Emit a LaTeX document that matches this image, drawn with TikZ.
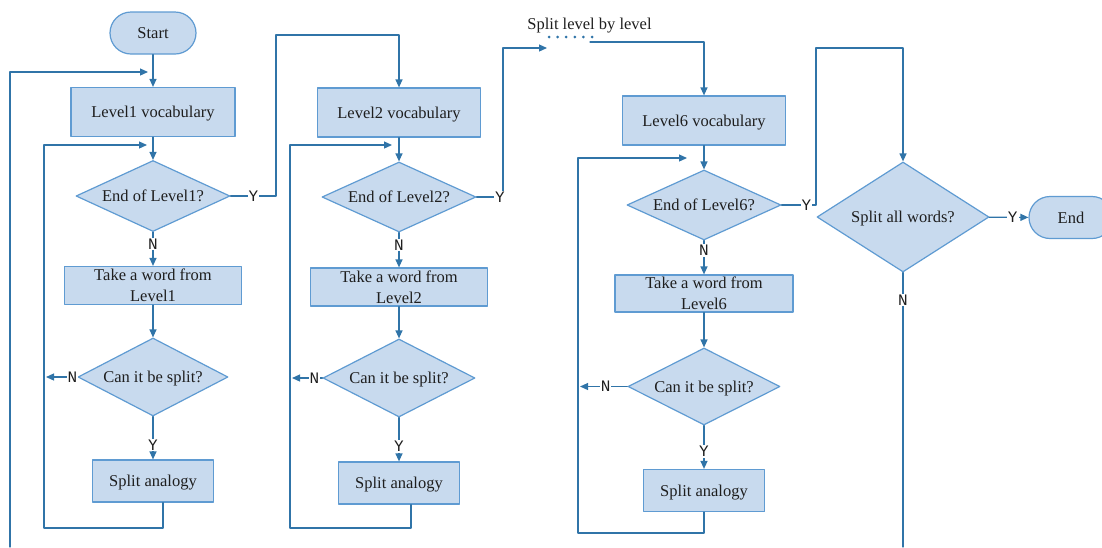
\documentclass[tikz,border=0pt]{standalone}
\usepackage{fontspec}
\setmainfont{Liberation Serif}
\newfontfamily\ynfont{Liberation Mono}
\usetikzlibrary{shapes.geometric,arrows.meta}
\definecolor{boxfill}{RGB}{200,218,238}
\definecolor{boxedge}{RGB}{95,155,210}
\definecolor{linkblue}{RGB}{48,116,168}
\definecolor{inkgray}{RGB}{30,30,30}

\begin{document}
\begin{tikzpicture}[x=1pt,y=-1pt,line cap=round,line join=round,
  box/.style={draw=boxedge,fill=boxfill,line width=1.2pt,inner sep=0pt,text=inkgray,
    font=\fontsize{16.5}{21}\selectfont,align=center,text depth=0pt},
  proc/.style={box,rectangle},
  term/.style={box,rectangle,rounded corners=21pt},
  ask/.style={box,diamond,aspect=2},
  link/.style={draw=linkblue,line width=1.2pt,-{Triangle[length=8pt,width=7pt]}},
  wire/.style={draw=linkblue,line width=1.2pt},
  yn/.style={fill=white,inner sep=1pt,text=inkgray,font=\ynfont\fontsize{16}{16}\selectfont}]
  \useasboundingbox (0,0) rectangle (1102,547);

  \coordinate (yc1) at (276,196);
  \coordinate (tc1) at (276,35);
  \coordinate (nl1) at (46,377);
  \coordinate (lb1) at (44,528);
  \coordinate (li1) at (147,145);
  \coordinate (ob) at (10,547);
  \coordinate (oi) at (148,72);
  \coordinate (yc2) at (503,197);
  \coordinate (ta2) at (547,48);
  \coordinate (nl2) at (292,378);
  \coordinate (lb2) at (290,528);
  \coordinate (li2) at (392,145);
  \coordinate (tb6) at (590,42);
  \coordinate (yc6) at (816,205);
  \coordinate (tc6) at (816,48);
  \coordinate (nl6) at (580,386.5);
  \coordinate (lb6) at (578,533);
  \coordinate (li6) at (687,158);
  \coordinate (nb) at (903,547);

  \node[term,minimum width=86pt,minimum height=42pt] (start) at (153,33) {Start};
  \node[proc,minimum width=164pt,minimum height=49pt] (lv1) at (153,112) {Level1 vocabulary};
  \node[ask,minimum width=154pt,minimum height=71pt] (end1) at (153,196) {End of Level1?};
  \node[proc,minimum width=177pt,minimum height=38pt] (take1) at (153,285.5) {Take a word from\\Level1};
  \node[ask,minimum width=150pt,minimum height=78pt] (can1) at (153,377) {Can it be split?};
  \node[proc,minimum width=121pt,minimum height=42pt] (split1) at (153,481) {Split analogy};

  \node[proc,minimum width=163pt,minimum height=49pt] (lv2) at (399,112.5) {Level2 vocabulary};
  \node[ask,minimum width=154pt,minimum height=70pt] (end2) at (399,197) {End of Level2?};
  \node[proc,minimum width=177pt,minimum height=38pt] (take2) at (399,287) {Take a word from\\Level2};
  \node[ask,minimum width=152pt,minimum height=78pt] (can2) at (399,378) {Can it be split?};
  \node[proc,minimum width=121pt,minimum height=42pt] (split2) at (399,483) {Split analogy};

  \node[text=inkgray,font=\fontsize{16.5}{21}\selectfont] (bylevel) at (589.5,26) {Split level by level};

  \node[proc,minimum width=163pt,minimum height=49pt] (lv6) at (704,120.5) {Level6 vocabulary};
  \node[ask,minimum width=154pt,minimum height=70pt] (end6) at (704,205) {End of Level6?};
  \node[proc,minimum width=178pt,minimum height=37pt] (take6) at (704,293.5) {Take a word from\\Level6};
  \node[ask,minimum width=152pt,minimum height=77pt] (can6) at (704,386.5) {Can it be split?};
  \node[proc,minimum width=121pt,minimum height=42pt] (split6) at (704,490.5) {Split analogy};

  \node[ask,minimum width=172pt,minimum height=110pt] (splitall) at (903,217) {Split all words?};
  \node[term,minimum width=84pt,minimum height=42pt] (stop) at (1071,217.5) {End};

  \draw[link] (start) -- (lv1);
  \draw[link] (lv1) -- (end1);
  \draw[link] (end1) -- node[yn,pos=0.35]{N} (take1);
  \draw[link] (take1) -- (can1);
  \draw[link] (can1) -- node[yn,pos=0.66]{Y} (split1);
  \draw[link] (can1.west) -- node[yn,pos=0.16]{N} (nl1);
  \draw[link] ([xshift=10pt]split1.south) |- (lb1) |- (li1);
  \draw[link] (ob) |- (oi);
  \draw[link] (end1.east) -- node[yn]{Y} (yc1) -- (tc1) -| (lv2.north);

  \draw[link] (lv2) -- (end2);
  \draw[link] (end2) -- node[yn,pos=0.36]{N} (take2);
  \draw[link] (take2) -- (can2);
  \draw[link] (can2) -- node[yn,pos=0.66]{Y} (split2);
  \draw[link] (can2.west) -- node[yn,pos=0.26]{N} (nl2);
  \draw[link] ([xshift=12pt]split2.south) |- (lb2) |- (li2);
  \draw[link] (end2.east) -- node[yn,pos=0.88]{Y} (yc2) |- (ta2);

  \draw[linkblue,line width=3pt,dash pattern=on 0pt off 8.6pt] (549,37) -- (593,37);
  \draw[link] (tb6) -| (lv6.north);

  \draw[link] (lv6) -- (end6);
  \draw[link] (end6) -- node[yn,pos=0.29]{N} (take6);
  \draw[link] (take6) -- (can6);
  \draw[link] (can6) -- node[yn,pos=0.6]{Y} (split6);
  \draw[link] (can6.west) -- node[yn,pos=0.46]{N} (nl6);
  \draw[link] (split6.south) |- (lb6) |- (li6);
  \draw[link] (end6.east) -- node[yn,pos=0.72]{Y} (yc6) -- (tc6) -| (splitall.north);

  \draw[link] (splitall) -- node[yn,pos=0.6]{Y} (stop);
  \draw[wire] (splitall.south) -- node[yn,pos=0.1]{N} (nb);
\end{tikzpicture}
\end{document}
